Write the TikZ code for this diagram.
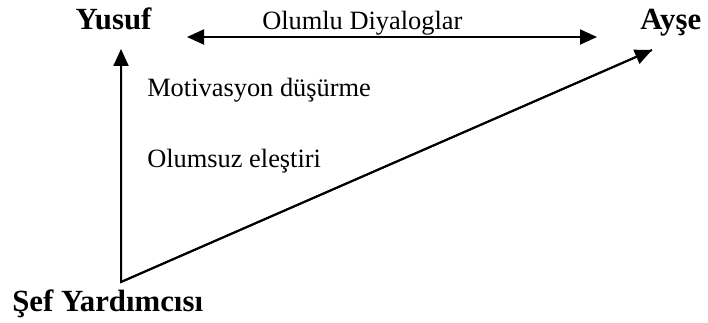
\documentclass[tikz,border=0pt]{standalone}
\usepackage{fontspec}
\setmainfont{Liberation Serif}
\usetikzlibrary{arrows.meta}

\tikzset{
  person/.style={inner sep=0pt, font=\fontsize{23.1pt}{27pt}\selectfont\bfseries},
  lbl/.style={inner sep=0pt, font=\fontsize{19.8pt}{24pt}\selectfont},
  arr/.style={line width=1.5pt, -{Triangle[length=12.75pt,width=11.25pt]}}
}

\begin{document}
\begin{tikzpicture}[x=0.75pt,y=0.75pt]
  \useasboundingbox (0,0) rectangle (708,322);

  % People
  \node[person, anchor=base] (yusuf) at (113.5,292) {Yusuf};
  \node[person, anchor=base west] (ayse) at (640,292.5) {Ayşe};
  \node[person, anchor=base west] (sef) at (12,11) {Şef Yardımcısı};

  % Arrow end points
  \coordinate (corner) at (121,40);
  \coordinate (yusufin) at (121,273);
  \coordinate (aysein) at (652,272);
  \coordinate (dlgleft) at (187,285);
  \coordinate (dlgright) at (597,285);

  % Connectors
  \draw[arr, {Triangle[length=12.75pt,width=11.25pt]}-{Triangle[length=12.75pt,width=11.25pt]}] (dlgleft) -- (dlgright);
  \draw[arr, line join=miter] (aysein) -- (corner) -- (yusufin);
  \draw[arr] (corner) -- (aysein);

  % Labels
  \node[lbl, anchor=base west] (dialog) at (262,292) {Olumlu Diyaloglar};
  \node[lbl, anchor=base west] (motiv) at (147,225) {Motivasyon düşürme};
  \node[lbl, anchor=base west] (critic) at (147,155) {Olumsuz eleştiri};
\end{tikzpicture}
\end{document}
